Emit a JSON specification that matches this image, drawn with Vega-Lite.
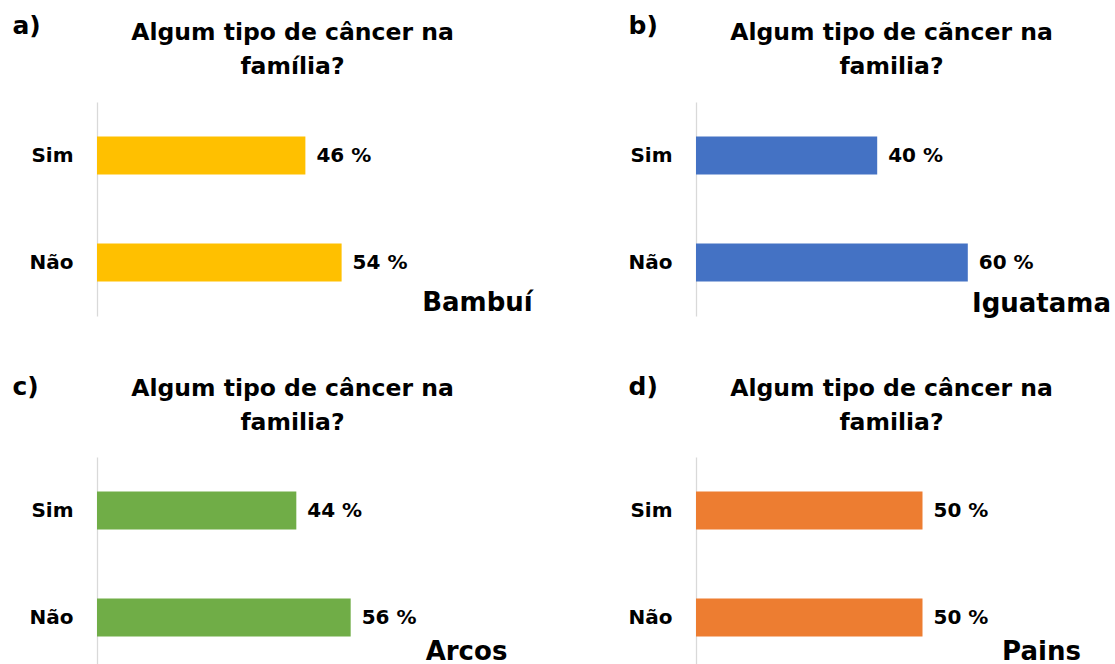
{
  "$schema": "https://vega.github.io/schema/vega-lite/v6.json",
  "padding": {"left": 12, "top": 13, "right": 0, "bottom": 0},
  "background": "white",
  "config": {
    "view": {"stroke": null},
    "font": "DejaVu Sans",
    "axis": {"grid": false},
    "title": {"fontWeight": "bold", "fontSize": 23.5, "lineHeight": 34, "color": "#000000", "anchor": "middle", "frame": "group"}
  },
  "data": {"values": [
    {"panel": "a", "city": "Bambuí", "resp": "Sim", "pct": 46, "label": "46 %"},
    {"panel": "a", "city": "Bambuí", "resp": "Não", "pct": 54, "label": "54 %"},
    {"panel": "b", "city": "Iguatama", "resp": "Sim", "pct": 40, "label": "40 %"},
    {"panel": "b", "city": "Iguatama", "resp": "Não", "pct": 60, "label": "60 %"},
    {"panel": "c", "city": "Arcos", "resp": "Sim", "pct": 44, "label": "44 %"},
    {"panel": "c", "city": "Arcos", "resp": "Não", "pct": 56, "label": "56 %"},
    {"panel": "d", "city": "Pains", "resp": "Sim", "pct": 50, "label": "50 %"},
    {"panel": "d", "city": "Pains", "resp": "Não", "pct": 50, "label": "50 %"}
  ]},
  "columns": 2,
  "bounds": "flush",
  "spacing": {"row": 141, "column": 146},
  "concat": [
    {
      "width": 453, "height": 214,
      "title": {"text": ["Algum tipo de câncer na", "família?"], "dx": -31, "offset": -65},
      "transform": [{"filter": "datum.panel == 'a'"}],
      "encoding": {
        "y": {"field": "resp", "type": "nominal", "sort": ["Sim", "Não"],
          "scale": {"paddingInner": 0.645, "paddingOuter": 0.3225},
          "axis": {"title": "a)", "titleAngle": 0, "titleAlign": "left", "titleBaseline": "alphabetic", "titleX": -85, "titleY": -69, "titleFontSize": 25, "titleFontWeight": "bold", "titleColor": "#000000",
            "ticks": false, "tickSize": 0, "labelPadding": 24, "labelFontSize": 20, "labelFontWeight": "bold", "labelColor": "#000000", "domainColor": "#D9D9D9", "domainWidth": 1.3}},
        "x": {"field": "pct", "type": "quantitative", "scale": {"domain": [0, 100]},
          "axis": {"title": "Bambuí", "labels": false, "ticks": false, "domain": false, "titleAlign": "center", "titleBaseline": "alphabetic", "titleX": 380, "titleY": -6, "titleFontSize": 26, "titleFontWeight": "bold", "titleColor": "#000000"}}
      },
      "layer": [
        {"mark": {"type": "bar", "color": "#FFC000"}},
        {"mark": {"type": "text", "align": "left", "baseline": "middle", "dx": 11, "fontSize": 20, "fontWeight": "bold", "color": "#000000"}, "encoding": {"text": {"field": "label"}}}
      ]
    },
    {
      "width": 453, "height": 214,
      "title": {"text": ["Algum tipo de cãncer na", "familia?"], "dx": -31, "offset": -65},
      "transform": [{"filter": "datum.panel == 'b'"}],
      "encoding": {
        "y": {"field": "resp", "type": "nominal", "sort": ["Sim", "Não"],
          "scale": {"paddingInner": 0.645, "paddingOuter": 0.3225},
          "axis": {"title": "b)", "titleAngle": 0, "titleAlign": "left", "titleBaseline": "alphabetic", "titleX": -68, "titleY": -69, "titleFontSize": 25, "titleFontWeight": "bold", "titleColor": "#000000",
            "ticks": false, "tickSize": 0, "labelPadding": 24, "labelFontSize": 20, "labelFontWeight": "bold", "labelColor": "#000000", "domainColor": "#D9D9D9", "domainWidth": 1.3}},
        "x": {"field": "pct", "type": "quantitative", "scale": {"domain": [0, 100]},
          "axis": {"title": "Iguatama", "labels": false, "ticks": false, "domain": false, "titleAlign": "center", "titleBaseline": "alphabetic", "titleX": 345, "titleY": -5, "titleFontSize": 26, "titleFontWeight": "bold", "titleColor": "#000000"}}
      },
      "layer": [
        {"mark": {"type": "bar", "color": "#4472C4"}},
        {"mark": {"type": "text", "align": "left", "baseline": "middle", "dx": 11, "fontSize": 20, "fontWeight": "bold", "color": "#000000"}, "encoding": {"text": {"field": "label"}}}
      ]
    },
    {
      "width": 453, "height": 214,
      "title": {"text": ["Algum tipo de câncer na", "familia?"], "dx": -31, "offset": -60},
      "transform": [{"filter": "datum.panel == 'c'"}],
      "encoding": {
        "y": {"field": "resp", "type": "nominal", "sort": ["Sim", "Não"],
          "scale": {"paddingInner": 0.645, "paddingOuter": 0.3225},
          "axis": {"title": "c)", "titleAngle": 0, "titleAlign": "left", "titleBaseline": "alphabetic", "titleX": -85, "titleY": -63, "titleFontSize": 25, "titleFontWeight": "bold", "titleColor": "#000000",
            "ticks": false, "tickSize": 0, "labelPadding": 24, "labelFontSize": 20, "labelFontWeight": "bold", "labelColor": "#000000", "domainColor": "#D9D9D9", "domainWidth": 1.3}},
        "x": {"field": "pct", "type": "quantitative", "scale": {"domain": [0, 100]},
          "axis": {"title": "Arcos", "labels": false, "ticks": false, "domain": false, "titleAlign": "center", "titleBaseline": "alphabetic", "titleX": 369, "titleY": -12, "titleFontSize": 26, "titleFontWeight": "bold", "titleColor": "#000000"}}
      },
      "layer": [
        {"mark": {"type": "bar", "color": "#70AD47"}},
        {"mark": {"type": "text", "align": "left", "baseline": "middle", "dx": 11, "fontSize": 20, "fontWeight": "bold", "color": "#000000"}, "encoding": {"text": {"field": "label"}}}
      ]
    },
    {
      "width": 453, "height": 214,
      "title": {"text": ["Algum tipo de câncer na", "familia?"], "dx": -31, "offset": -60},
      "transform": [{"filter": "datum.panel == 'd'"}],
      "encoding": {
        "y": {"field": "resp", "type": "nominal", "sort": ["Sim", "Não"],
          "scale": {"paddingInner": 0.645, "paddingOuter": 0.3225},
          "axis": {"title": "d)", "titleAngle": 0, "titleAlign": "left", "titleBaseline": "alphabetic", "titleX": -68, "titleY": -63, "titleFontSize": 25, "titleFontWeight": "bold", "titleColor": "#000000",
            "ticks": false, "tickSize": 0, "labelPadding": 24, "labelFontSize": 20, "labelFontWeight": "bold", "labelColor": "#000000", "domainColor": "#D9D9D9", "domainWidth": 1.3}},
        "x": {"field": "pct", "type": "quantitative", "scale": {"domain": [0, 100]},
          "axis": {"title": "Pains", "labels": false, "ticks": false, "domain": false, "titleAlign": "center", "titleBaseline": "alphabetic", "titleX": 345, "titleY": -12, "titleFontSize": 26, "titleFontWeight": "bold", "titleColor": "#000000"}}
      },
      "layer": [
        {"mark": {"type": "bar", "color": "#ED7D31"}},
        {"mark": {"type": "text", "align": "left", "baseline": "middle", "dx": 11, "fontSize": 20, "fontWeight": "bold", "color": "#000000"}, "encoding": {"text": {"field": "label"}}}
      ]
    }
  ]
}
